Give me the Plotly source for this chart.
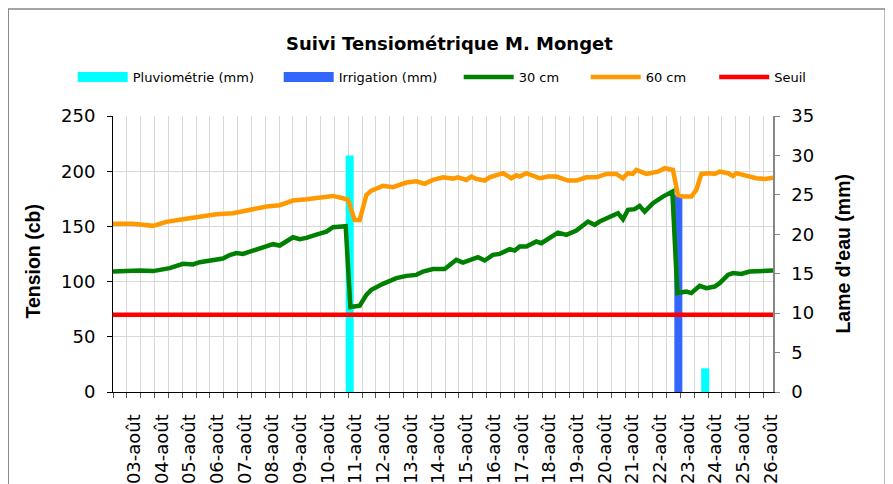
import plotly.graph_objects as go

# ---------------- data (x = day of August, fractional) ----------------
day_ticks = list(range(3, 27))
day_labels = ["%02d-août" % d for d in day_ticks]

t30 = [2.234, 2.718, 3.199, 3.679, 4.040, 4.283, 4.763, 5.124, 5.366, 5.728,
       5.970, 6.208, 6.450, 6.692, 6.931, 7.292, 7.653, 8.014, 8.257, 8.737,
       8.979, 9.221, 9.582, 9.944, 10.182, 10.641, 10.811, 11.147, 11.389, 11.569,
       11.988, 12.473, 12.834, 13.195, 13.434, 13.795, 14.217, 14.640, 14.879, 15.121,
       15.420, 15.663, 15.962, 16.205, 16.566, 16.746, 16.927, 17.169, 17.530, 17.711,
       18.011, 18.311, 18.614, 18.976, 19.395, 19.637, 19.817, 20.178, 20.478, 20.659,
       20.840, 21.082, 21.262, 21.443, 21.743, 22.104, 22.444, 22.624, 22.950, 23.130,
       23.430, 23.672, 23.972, 24.152, 24.452, 24.633, 24.936, 25.236, 25.597, 26.080]
v30 = [109.1, 109.8, 110.0, 109.5, 110.7, 112.2, 116.1, 115.5, 117.6, 118.8,
       120.3, 120.9, 124.0, 125.8, 125.1, 127.9, 131.2, 133.9, 132.7, 140.2,
       138.4, 139.6, 142.6, 145.3, 149.3, 150.2, 76.9, 78.1, 88.0, 92.6,
       98.0, 103.1, 105.2, 106.1, 109.1, 111.3, 111.3, 119.7, 117.3, 119.1,
       122.1, 119.1, 124.2, 125.1, 129.4, 128.1, 131.7, 131.7, 136.3, 134.8,
       140.2, 144.4, 142.3, 146.2, 154.4, 151.4, 154.4, 158.3, 162.0, 156.5,
       165.0, 165.6, 168.6, 163.4, 171.0, 177.0, 181.5, 89.6, 91.0, 89.6,
       96.2, 94.1, 95.5, 98.6, 106.1, 107.7, 107.0, 109.1, 109.1, 110.0]

t60 = [2.234, 2.957, 3.679, 4.163, 4.763, 5.366, 5.970, 6.569, 7.173, 7.776,
       8.257, 8.737, 9.221, 9.702, 10.182, 10.543, 10.724, 10.966, 11.147, 11.389,
       11.569, 11.988, 12.350, 12.834, 13.195, 13.495, 13.795, 14.156, 14.517, 14.698,
       15.001, 15.182, 15.363, 15.663, 15.843, 16.324, 16.627, 16.808, 16.927, 17.169,
       17.650, 17.950, 18.253, 18.672, 18.976, 19.337, 19.698, 20.059, 20.420, 20.659,
       20.831, 21.012, 21.143, 21.504, 21.923, 22.165, 22.465, 22.646, 22.827, 23.130,
       23.311, 23.491, 23.791, 23.972, 24.152, 24.452, 24.633, 24.756, 24.994, 25.175,
       25.478, 25.778, 26.080]
v60 = [152.3, 152.3, 150.5, 154.1, 156.5, 158.9, 161.0, 162.0, 165.0, 168.0,
       169.2, 173.4, 174.6, 175.8, 177.6, 175.5, 174.0, 155.9, 155.9, 178.5,
       182.4, 186.7, 185.5, 189.7, 190.9, 188.5, 192.1, 194.5, 193.3, 194.5,
       192.1, 195.1, 193.0, 191.5, 194.5, 198.2, 193.6, 196.3, 195.1, 198.2,
       193.6, 195.1, 195.1, 191.5, 191.5, 194.5, 194.5, 197.5, 197.5, 193.6,
       198.2, 197.5, 201.1, 197.5, 199.6, 202.7, 201.1, 178.5, 177.0, 177.0,
       183.0, 197.5, 198.2, 197.5, 199.6, 198.2, 195.7, 198.2, 196.6, 195.1,
       193.6, 193.0, 194.2]

seuil_value = 70

pluvio_days = [10.785, 23.63]
pluvio_mm = [30, 3]
irrig_days = [22.66]
irrig_mm = [25]

# ---------------- geometry (page pixels; the page body adds an 8 px offset) ----------------
OFF = 8
L, R, T, B = 113.3, 773.3, 116.0, 392.3
PAGE_W, PAGE_H = 893, 484
W, H = PAGE_W - OFF, PAGE_H - OFF


def xp(px):
    return (px - L) / (R - L)


def yp(py):
    return (B - py) / (B - T)


FONT = "DejaVu Sans"
FONT_B = "Liberation Sans"

fig = go.Figure()

# bars on the right axis (primary 'y', drawn first so lines sit on top)
fig.add_trace(go.Bar(x=pluvio_days, y=pluvio_mm, width=0.29, marker_color="#00FFFF",
                     marker_line_width=0, showlegend=False, yaxis="y", hoverinfo="skip"))
fig.add_trace(go.Bar(x=irrig_days, y=irrig_mm, width=0.29, marker_color="#3366FF",
                     marker_line_width=0, showlegend=False, yaxis="y", hoverinfo="skip"))

# lines on the left axis (overlay 'y2')
fig.add_trace(go.Scatter(x=t30, y=[seuil_value] * len(t30), mode="lines", name="Seuil",
                         line=dict(color="#FF0000", width=4.5), yaxis="y2", legend="legend5"))
fig.add_trace(go.Scatter(x=t60, y=v60, mode="lines", name="60 cm",
                         line=dict(color="#FF9900", width=4.5), yaxis="y2", legend="legend4"))
fig.add_trace(go.Scatter(x=t30, y=v30, mode="lines", name="30 cm",
                         line=dict(color="#008000", width=4.5), yaxis="y2", legend="legend3"))

# legend keys for the bar series
fig.add_trace(go.Scatter(x=[None], y=[None], mode="lines", name="Pluviométrie (mm)",
                         line=dict(color="#00FFFF", width=10), yaxis="y2", legend="legend"))
fig.add_trace(go.Scatter(x=[None], y=[None], mode="lines", name="Irrigation (mm)",
                         line=dict(color="#3366FF", width=10), yaxis="y2", legend="legend2"))

text_starts = [133, 339, 519, 646, 774.5]
legend_common = dict(orientation="h", yanchor="middle", y=yp(77), xanchor="left",
                     bgcolor="rgba(0,0,0,0)", borderwidth=0, itemwidth=50,
                     font=dict(family=FONT, size=13, color="black"))
legends = {}
for i, ts in enumerate(text_starts):
    key = "legend" if i == 0 else "legend%d" % (i + 1)
    legends[key] = dict(legend_common, x=xp(ts - 60))

fig.update_layout(
    width=W, height=H,
    margin=dict(l=L - OFF, r=PAGE_W - R, t=T - OFF, b=PAGE_H - B, pad=0, autoexpand=False),
    paper_bgcolor="white", plot_bgcolor="white",
    barmode="overlay",
    showlegend=True,
    **legends,
    xaxis=dict(
        range=[2.234, 26.08], automargin=False,
        tickmode="array", tickvals=day_ticks, ticktext=day_labels,
        tickangle=-90, ticks="", showgrid=False, zeroline=False,
        showline=True, linecolor="black", linewidth=1,
        tickfont=dict(family=FONT, size=18, color="black"),
        ticklabelstandoff=14,
        minor=dict(tick0=2.734, dtick=0.5, showgrid=True, gridcolor="#D9D9D9",
                   gridwidth=1, ticks="outside", ticklen=5, tickcolor="#555555"),
    ),
    yaxis=dict(
        side="right", range=[0, 35], tick0=0, dtick=5, showgrid=False, zeroline=False,
        automargin=False,
        showline=True, linecolor="#868686", linewidth=1.5,
        ticks="outside", ticklen=5, tickcolor="#868686",
        tickfont=dict(family=FONT, size=18, color="black"),
        ticklabelstandoff=8,
    ),
    yaxis2=dict(
        overlaying="y", side="left", range=[0, 250], tick0=0, dtick=50,
        automargin=False,
        showgrid=True, gridcolor="#D9D9D9", gridwidth=1, zeroline=False,
        showline=True, linecolor="black", linewidth=1,
        ticks="outside", ticklen=5, tickcolor="black",
        tickfont=dict(family=FONT, size=18, color="black"),
        ticklabelstandoff=8,
    ),
    annotations=[
        dict(text="<b>Suivi Tensiométrique M. Monget</b>", xref="paper", yref="paper",
             x=xp(449.5), y=yp(43.5), xanchor="center", yanchor="middle", showarrow=False,
             font=dict(family=FONT, size=18, color="black")),
        dict(text="<b>Tension (cb)</b>", xref="paper", yref="paper",
             x=xp(33), y=yp(262), xanchor="center", yanchor="middle", showarrow=False,
             textangle=-90, font=dict(family=FONT_B, size=19.5, color="black")),
        dict(text="<b>Lame d'eau (mm)</b>", xref="paper", yref="paper",
             x=xp(843), y=yp(254), xanchor="center", yanchor="middle", showarrow=False,
             textangle=-90, font=dict(family=FONT_B, size=19.5, color="black")),
    ],
    shapes=[
        dict(type="rect", xref="paper", yref="paper",
             x0=xp(8.5), x1=xp(885.5), y0=yp(495), y1=yp(9),
             line=dict(color="#868686", width=1.5), fillcolor="rgba(0,0,0,0)", layer="below"),
    ],
)

fig.write_html("out.html")
